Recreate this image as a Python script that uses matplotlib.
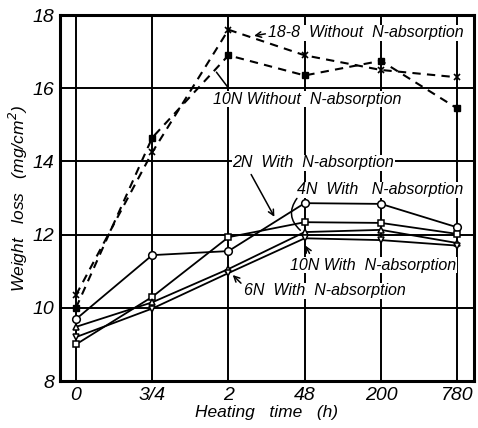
import matplotlib
matplotlib.use('Agg')
import matplotlib.pyplot as plt
import numpy as np

# heating time categories (equally spaced on the chart)
times = ['0', '3/4', '2', '48', '200', '780']

# without N-absorption (dashed)
ss18_8 = [10.35, 14.25, 17.6, 16.9, 16.5, 16.3]
n10_wo = [10.0, 14.65, 16.9, 16.35, 16.75, 15.45]

# with N-absorption (solid)
n2_w = [9.69, 11.44, 11.55, 12.86, 12.84, 12.2]
n4_w = [9.0, 10.3, 11.93, 12.34, 12.32, 12.02]
n6_w = [9.48, 10.15, 11.06, 12.07, 12.13, 11.77]
n10_w = [9.2, 9.98, 10.95, 11.9, 11.85, 11.7]

plt.rcParams['font.family'] = ['Liberation Sans', 'DejaVu Sans']
plt.rcParams['font.style'] = 'italic'

fig = plt.figure(figsize=(4.78, 4.28), dpi=100)
ax = fig.add_axes([0.1255, 0.1098, 0.866, 0.855])
x = np.arange(len(times))

# grid
for yv in [10, 12, 14, 16]:
    ax.axhline(yv, color='k', lw=1.4, zorder=1)
for xv in x:
    ax.axvline(xv, color='k', lw=1.4, zorder=1)

ax.plot(x, ss18_8, 'k--', lw=1.5, dashes=(4, 3), marker='x', ms=5, mew=1.2, zorder=3)
ax.plot(x, n10_wo, 'k--', lw=1.5, dashes=(4, 3), marker='s', ms=4.5, mfc='k', zorder=3)

ax.plot(x, n2_w, 'k-', lw=1.3, marker='o', ms=5.5, mfc='white', mew=1.1, zorder=4)
ax.plot(x, n4_w, 'k-', lw=1.3, marker='s', ms=5, mfc='white', mew=1.1, zorder=4)
ax.plot(x, n6_w, 'k-', lw=1.3, marker='^', ms=5, mfc='white', mew=1.1, zorder=4)
ax.plot(x, n10_w, 'k-', lw=1.3, marker='v', ms=5, mfc='white', mew=1.1, zorder=4)

# labels with leaders
box = dict(facecolor='white', edgecolor='none', pad=0.5)
fs = 11.5
ax.text(2.52, 17.51, '18-8  Without  N-absorption', fontsize=fs, ha='left', va='center', bbox=box, zorder=5)
ax.annotate('', xy=(2.3, 17.42), xytext=(2.52, 17.5),
            arrowprops=dict(arrowstyle='->', lw=1.1, color='k'), zorder=5)

ax.text(1.8, 15.7, '10N Without  N-absorption', fontsize=fs, ha='left', va='center', bbox=box, zorder=5)
ax.annotate('', xy=(1.82, 16.5), xytext=(2.02, 15.95),
            arrowprops=dict(arrowstyle='-', lw=1.1, color='k'), zorder=5)

ax.text(2.05, 13.96, '2N  With  N-absorption', fontsize=fs, ha='left', va='center', bbox=box, zorder=5)
ax.annotate('', xy=(2.62, 12.42), xytext=(2.28, 13.71),
            arrowprops=dict(arrowstyle='->', lw=1.1, color='k'), zorder=5)

ax.text(2.9, 13.22, '4N  With   N-absorption', fontsize=fs, ha='left', va='center', bbox=box, zorder=5)
ax.annotate('', xy=(2.97, 12.07), xytext=(2.92, 13.05),
            arrowprops=dict(arrowstyle='-', lw=1.1, color='k', connectionstyle='arc3,rad=0.5'), zorder=5)

ax.text(2.81, 11.17, '10N With  N-absorption', fontsize=fs, ha='left', va='center', bbox=box, zorder=5)
ax.annotate('', xy=(2.99, 11.77), xytext=(3.08, 11.42),
            arrowprops=dict(arrowstyle='->', lw=1.1, color='k'), zorder=5)

ax.text(2.2, 10.46, '6N  With  N-absorption', fontsize=fs, ha='left', va='center', bbox=box, zorder=5)
ax.annotate('', xy=(2.03, 10.95), xytext=(2.19, 10.62),
            arrowprops=dict(arrowstyle='->', lw=1.1, color='k'), zorder=5)

ax.set_xlim(-0.21, 5.22)
ax.set_ylim(8, 18)
ax.set_xticks(x)
ax.set_xticklabels(times, fontsize=14)
ax.set_yticks([8, 10, 12, 14, 16, 18])
ax.set_yticklabels(['8', '10', '12', '14', '16', '18'], fontsize=14)
ax.tick_params(length=0, pad=4)
for s in ax.spines.values():
    s.set_linewidth(2.2)

ax.set_xlabel('Heating   time   (h)', fontsize=12.5, labelpad=1)
ax.set_ylabel('Weight   loss   (mg/cm$^2$)', fontsize=12.5, labelpad=2)

fig.savefig('out.png', dpi=100)
